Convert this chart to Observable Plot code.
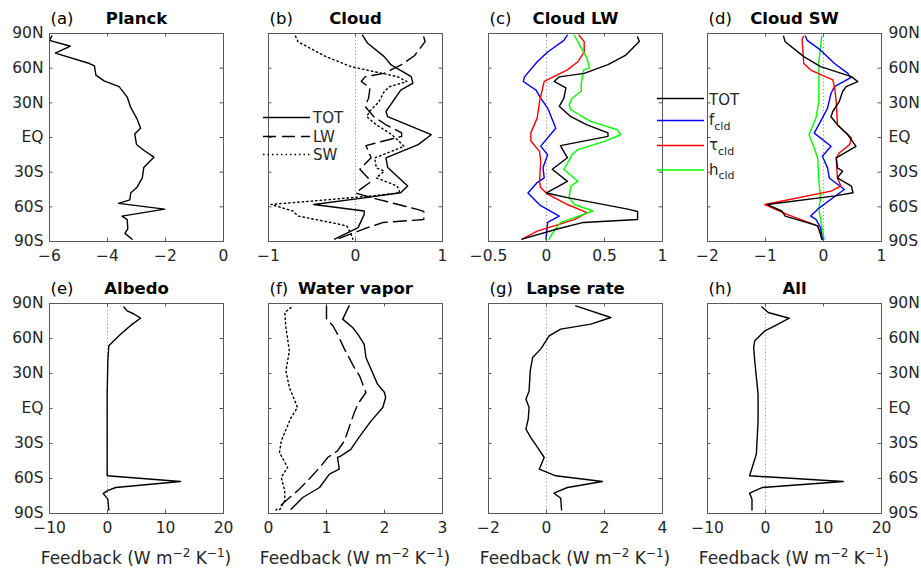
<!DOCTYPE html>
<html><head><meta charset="utf-8">
<script src="https://cdn.jsdelivr.net/npm/d3@7"></script>
<script src="https://cdn.jsdelivr.net/npm/@observablehq/plot@0.6"></script>
<style>
body{margin:0;background:#fff;}
#chart{position:relative;width:921px;height:572px;font-family:"DejaVu Sans",sans-serif;overflow:hidden;background:#fff;}
</style></head><body><div id="chart"></div>
<script>
// ---- latitude axis ----
const latTicks = [-90, -60, -30, 0, 30, 60, 90];
const latLabels = ["90S", "60S", "30S", "EQ", "30N", "60N", "90N"];

// ---- (a) Planck ----
const planckLat = [88, 84, 79, 73, 64, 62, 54, 49, 44, 35, 26, 16, 8, 3, -6, -11, -17, -26, -35, -43, -48, -54, -57, -62, -68, -71, -79, -83, -88];
const planckVal = [-5.92, -6.0, -5.28, -5.8, -4.62, -4.45, -4.4, -4.12, -3.6, -3.32, -3.2, -2.98, -2.86, -3.06, -3.0, -2.75, -2.4, -2.75, -2.8, -2.98, -3.2, -3.23, -3.62, -2.03, -3.5, -3.32, -3.3, -3.4, -3.15];

// ---- (b) Cloud: total ----
const cloudTotLat = [88.6, 81.5, 70, 62.8, 52.7, 47, 41, 22.5, 18, 2.4, -6.2, -17.7, -26, -42, -47.8, -52, -58, -63.6, -66.5, -78, -88];
const cloudTotVal = [0.08, 0.14, 0.33, 0.41, 0.64, 0.66, 0.52, 0.35, 0.37, 0.87, 0.72, 0.35, 0.37, 0.6, 0.52, 0.12, -0.48, 0.1, 0.1, 0.03, -0.24];

// ---- (c) Cloud LW: TOT, f_cld, tau_cld, h_cld ----
const lwLat = [87, 83, 71, 63, 55.5, 52.5, 48.5, 43, 34, 27, 18, 11, 4, 1, -7, -17.5, -27.5, -38, -48, -52, -62, -64, -71, -73.5, -79, -88];
const lwVal = [0.785, 0.8, 0.68, 0.53, 0.325, 0.11, 0.066, 0.167, 0.15, 0.11, 0.21, 0.35, 0.53, 0.53, 0.12, 0.18, 0.05, 0.18, 0.0, 0.18, 0.7, 0.785, 0.785, 0.32, 0.1, -0.21];
const fLwLat = [88.5, 84, 74, 65.5, 52.5, 48.5, 41, 34, 25.5, 8, -7.5, -15, -26, -35, -39, -48, -59, -68, -73.5, -88];
const fLwVal = [0.18, 0.15, 0.01, -0.08, -0.19, -0.2, -0.09, -0.05, 0.01, 0.08, -0.05, 0.01, -0.03, -0.02, -0.08, -0.16, -0.05, 0.11, 0.01, -0.005];
const tLwLat = [88.5, 83, 74, 65.5, 58.5, 48.5, 31, 17, 4, -3, -12, -20.5, -38, -43.5, -49, -58, -65, -71, -81, -88];
const tLwVal = [0.28, 0.325, 0.325, 0.27, 0.18, -0.02, -0.06, -0.08, -0.135, -0.135, -0.06, -0.05, -0.06, -0.05, 0.01, 0.18, 0.35, 0.24, -0.08, -0.21];
const hLwLat = [88.5, 83, 68.5, 60, 58.5, 47, 40, 34, 28, 24, 14, 6.7, 2.4, -3.3, -10.5, -15, -27.7, -37.8, -42, -52, -58, -63.6, -69.3, -73.6, -80.8, -88];
const hLwVal = [0.24, 0.27, 0.35, 0.37, 0.32, 0.3, 0.3, 0.22, 0.195, 0.21, 0.38, 0.61, 0.64, 0.5, 0.27, 0.22, 0.15, 0.27, 0.21, 0.195, 0.24, 0.4, 0.24, 0.12, 0.066, 0.02];

// ---- (d) Cloud SW: TOT, f_cld, tau_cld, h_cld ----
const swLat = [87.7, 82.8, 70, 61.3, 52.7, 48.4, 44, 39.8, 31, 22.5, 18, 11, 2.4, -7.6, -17.7, -26.3, -29, -35, -42, -47.8, -50.5, -58, -63.6, -68, -73.6, -76.5, -83.7, -88];
const swVal = [-0.69, -0.66, -0.34, -0.05, 0.48, 0.59, 0.39, 0.33, 0.27, 0.16, 0.13, 0.24, 0.42, 0.56, 0.22, 0.24, 0.33, 0.24, 0.48, 0.51, 0.2, -0.97, -0.72, -0.66, -0.28, -0.1, -0.05, -0.03];
const fSwLat = [87.7, 84, 75.6, 64, 55.5, 51.8, 44, 38.3, 25.4, 14, 3.8, -7.6, -16.2, -26.3, -35, -45, -49.3, -62, -68, -70.8, -78, -88];
const fSwVal = [-0.31, -0.28, -0.05, 0.19, 0.42, 0.47, 0.19, 0.13, 0.07, -0.05, -0.16, 0.13, -0.02, 0.07, 0.1, 0.36, 0.24, -0.1, -0.22, -0.13, -0.05, -0.02];
const tSwLat = [87.7, 85, 64, 58.4, 49.8, 44, 31, 11, -0.4, -6.2, -13.4, -17.7, -35, -42, -46.4, -58, -66.5, -76.5, -86.6];
const tSwVal = [-0.34, -0.37, -0.34, -0.22, 0.16, 0.19, 0.22, 0.24, 0.48, 0.45, 0.27, 0.22, 0.24, 0.3, 0.13, -1.01, -0.63, -0.1, -0.03];
const hSwLat = [87.7, 65.6, 31, 16.8, 2.4, -9, -17.7, -37.8, -52, -62, -88];
const hSwVal = [-0.03, -0.08, -0.08, -0.13, -0.25, -0.16, -0.1, -0.08, -0.05, -0.08, 0.01];

// ---- (e) Albedo ----
const albLat = [87, 83.7, 81, 77.4, 72.3, 63.7, 58, 53.7, 41, 12, -16, -57.7, -62.6, -67.7, -70.6, -73, -77.7, -87];
const albVal = [2.83, 3.4, 4.56, 5.7, 4.27, 2.25, 1.1, 0.23, 0.06, -0.06, -0.06, -0.06, 12.6, 1.4, -0.06, -0.75, 0.06, 0.23];

// ---- (f) Water vapor: TOT, LW, SW ----
const wvLat = [88, 76.6, 69.4, 63.7, 55, 43.7, 20.9, 13.7, 9.4, 0.9, -10.6, -22, -29, -35, -40.6, -42, -52, -56.3, -67.7, -76.3, -86.3];
const wvVal = [1.39, 1.28, 1.45, 1.54, 1.65, 1.68, 1.88, 2.0, 2.02, 1.97, 1.77, 1.6, 1.5, 1.42, 1.25, 1.19, 1.22, 1.05, 0.88, 0.59, 0.39];
const wvLwLat = [88, 77, 70.9, 63.7, 50.9, 35, 28, 13.7, 3.7, -3.4, -19, -27.7, -36.3, -42, -49, -59, -70.6, -79, -87];
const wvLwVal = [1.0, 1.0, 1.11, 1.19, 1.31, 1.48, 1.57, 1.68, 1.54, 1.48, 1.37, 1.31, 1.19, 1.02, 0.91, 0.73, 0.5, 0.3, 0.13];
const wvSwLat = [86.6, 82.3, 69.4, 49.4, 32.3, 18, 0.9, -7.7, -27.7, -37.7, -50.6, -59, -70.6, -79, -87];
const wvSwVal = [0.39, 0.28, 0.3, 0.36, 0.3, 0.36, 0.5, 0.39, 0.22, 0.19, 0.33, 0.22, 0.28, 0.28, 0.19];

// ---- (g) Lapse rate ----
const lrLat = [88, 78, 72.3, 68, 62.3, 50.9, 43.7, 32.3, 15.1, 8, 0.9, -9.1, -17.7, -24.9, -33.4, -42, -52, -57.7, -62.6, -67.7, -72.6, -76.9, -87];
const lrVal = [1.01, 2.22, 1.53, 0.49, 0.09, -0.2, -0.48, -0.56, -0.6, -0.71, -0.6, -0.63, -0.71, -0.54, -0.31, -0.08, -0.25, 0.32, 1.93, 0.72, 0.26, 0.49, 0.52];

// ---- (h) All ----
const allLat = [87, 82.3, 77.4, 70.9, 66.6, 58, 52.3, 40.9, 12.3, -10.6, -39, -57.7, -62.6, -67.7, -72.6, -77.7, -87];
const allVal = [-0.6, 0.47, 4.1, 1.6, -0.1, -1.86, -2.04, -1.86, -1.28, -1.28, -1.57, -2.74, 13.4, -0.5, -2.74, -2.33, -2.33];

// ---- x ticks per panel ----
const xTicksA = [-6, -4, -2, 0], xTicksB = [-1, 0, 1], xTicksC = [-0.5, 0, 0.5, 1], xTicksD = [-2, -1, 0, 1];
const xTicksE = [-10, 0, 10, 20], xTicksF = [0, 1, 2, 3], xTicksG = [-2, 0, 2, 4], xTicksH = [-10, 0, 10, 20];

// ---- legend labels ----
const legendB = ["TOT", "LW", "SW"];
const legendCD = [["TOT", ""], ["f", "cld"], ["\u03C4", "cld"], ["h", "cld"]];
const xLabel = ["Feedback (W m", "\u22122", " K", "\u22121", ")"];

// ---- layout ----
const colLefts = [49, 268, 488, 707];
const FW = 174;
const rowTops = [33, 303];
const FH = [208, 210];
const ML = 60, MR = 60, MT = 40, MB = 40;
const TXT = "#262626", AX = "#5a5a5a";
const DASH = "13,6", DOT = "1.5,3";

const fmt = d => d < 0 ? "\u2212" + Math.abs(d) : String(d);
const latFmt = d => latLabels[latTicks.indexOf(d)];

const chart = document.getElementById("chart");

function panel({col, row, letter, title, xdomain, xticks, series, zero = true, yaxis = null}) {
  const fh = FH[row];
  const marks = [];
  if (zero) marks.push(Plot.ruleX([0], {stroke: "#8a8a8a", strokeWidth: 1, strokeDasharray: "1,2.5"}));
  for (const s of series) {
    marks.push(Plot.line(d3.zip(s.lat, s.val), {
      x: d => d[1], y: d => d[0],
      stroke: s.color || "black", strokeWidth: 1.4,
      strokeDasharray: s.dash || null
    }));
  }
  marks.push(Plot.frame({stroke: AX, strokeWidth: 1}));
  marks.push(Plot.tickX(xticks, {x: d => d, insetTop: fh - 3.5, stroke: AX}));
  marks.push(Plot.tickX(xticks, {x: d => d, insetBottom: fh - 3.5, stroke: AX}));
  marks.push(Plot.tickY(latTicks, {y: d => d, insetRight: FW - 3.5, stroke: AX}));
  marks.push(Plot.tickY(latTicks, {y: d => d, insetLeft: FW - 3.5, stroke: AX}));
  marks.push(Plot.axisX(xticks, {anchor: "bottom", tickSize: 0, tickPadding: 8, tickFormat: fmt, fontSize: 15.5, label: null, fill: TXT}));
  if (yaxis) marks.push(Plot.axisY(latTicks, {anchor: yaxis, tickSize: 0, tickPadding: yaxis === "left" ? 6 : 7, tickFormat: latFmt, fontSize: 15.5, label: null, fill: TXT}));
  marks.push(Plot.text([title], {text: d => d, frameAnchor: "top", dy: -10, lineAnchor: "bottom", fontWeight: "bold", fontSize: 16.5, fill: "black"}));
  marks.push(Plot.text([letter], {text: d => d, frameAnchor: "top-left", textAnchor: "start", dx: 1, dy: -10, lineAnchor: "bottom", fontSize: 16.5, fill: "black"}));

  const svg = Plot.plot({
    width: FW + ML + MR,
    height: fh + MT + MB,
    marginLeft: ML, marginRight: MR, marginTop: MT, marginBottom: MB,
    x: {domain: xdomain, axis: null},
    y: {domain: [-90, 90], axis: null},
    style: `background:transparent;overflow:visible;font-family:'DejaVu Sans',sans-serif;color:${TXT};position:absolute;left:${colLefts[col] - ML}px;top:${rowTops[row] - MT}px;max-width:none;`,
    marks
  });
  chart.appendChild(svg);
}

const S = (lat, val, color, dash) => ({lat, val, color, dash});

panel({col: 0, row: 0, letter: "(a)", title: "Planck", xdomain: [-6, 0], xticks: xTicksA, zero: false, yaxis: "left",
  series: [S(planckLat, planckVal)]});
panel({col: 1, row: 0, letter: "(b)", title: "Cloud", xdomain: [-1, 1], xticks: xTicksB,
  series: [S(cloudTotLat, cloudTotVal), S(lwLat, lwVal, "black", DASH), S(swLat, swVal, "black", DOT)]});
panel({col: 2, row: 0, letter: "(c)", title: "Cloud LW", xdomain: [-0.5, 1], xticks: xTicksC,
  series: [S(fLwLat, fLwVal, "#0000ff"), S(tLwLat, tLwVal, "#ff0000"), S(hLwLat, hLwVal, "#00ff00"), S(lwLat, lwVal, "black")]});
panel({col: 3, row: 0, letter: "(d)", title: "Cloud SW", xdomain: [-2, 1], xticks: xTicksD, yaxis: "right",
  series: [S(hSwLat, hSwVal, "#00ff00"), S(fSwLat, fSwVal, "#0000ff"), S(tSwLat, tSwVal, "#ff0000"), S(swLat, swVal, "black")]});
panel({col: 0, row: 1, letter: "(e)", title: "Albedo", xdomain: [-10, 20], xticks: xTicksE, yaxis: "left",
  series: [S(albLat, albVal)]});
panel({col: 1, row: 1, letter: "(f)", title: "Water vapor", xdomain: [0, 3], xticks: xTicksF, zero: false,
  series: [S(wvLat, wvVal), S(wvLwLat, wvLwVal, "black", DASH), S(wvSwLat, wvSwVal, "black", DOT)]});
panel({col: 2, row: 1, letter: "(g)", title: "Lapse rate", xdomain: [-2, 4], xticks: xTicksG,
  series: [S(lrLat, lrVal)]});
panel({col: 3, row: 1, letter: "(h)", title: "All", xdomain: [-10, 20], xticks: xTicksH, yaxis: "right",
  series: [S(allLat, allVal)]});

// ---- overlay: legends and x-axis labels ----
const ov = d3.select(chart).append("svg")
  .attr("width", 921).attr("height", 572)
  .style("position", "absolute").style("left", "0px").style("top", "0px")
  .attr("font-family", "'DejaVu Sans',sans-serif");

// legend (b)
const legBY = [117.5, 136.5, 154.5];
const legBDash = [null, DASH, DOT];
legendB.forEach((t, i) => {
  ov.append("line").attr("x1", 263).attr("x2", 310).attr("y1", legBY[i]).attr("y2", legBY[i])
    .attr("stroke", "black").attr("stroke-width", 1.4).attr("stroke-dasharray", legBDash[i]);
  ov.append("text").attr("x", 313).attr("y", legBY[i]).attr("dy", "0.36em")
    .attr("font-size", 15).attr("fill", TXT).text(t);
});

// legend (c)/(d)
const legCY = [98.5, 120.5, 145.5, 170];
const legCCol = ["black", "#0000ff", "#ff0000", "#00ff00"];
legendCD.forEach(([base, sub], i) => {
  ov.append("line").attr("x1", 657).attr("x2", 704).attr("y1", legCY[i]).attr("y2", legCY[i])
    .attr("stroke", legCCol[i]).attr("stroke-width", 1.4);
  const t = ov.append("text").attr("x", 709).attr("y", legCY[i] + (sub ? 4.5 : 6)).attr("font-size", 15).attr("fill", TXT);
  t.append("tspan").text(base);
  if (sub) t.append("tspan").attr("dy", 4.5).attr("font-size", 11).text(sub);
});

// x labels under bottom row
colLefts.forEach(cl => {
  const t = ov.append("text").attr("x", cl + FW / 2).attr("y", 564).attr("text-anchor", "middle")
    .attr("font-size", 17).attr("fill", TXT);
  t.append("tspan").text(xLabel[0]);
  t.append("tspan").attr("dy", -7).attr("font-size", 12).text(xLabel[1]);
  t.append("tspan").attr("dy", 7).text(xLabel[2]);
  t.append("tspan").attr("dy", -7).attr("font-size", 12).text(xLabel[3]);
  t.append("tspan").attr("dy", 7).text(xLabel[4]);
});
</script></body></html>
